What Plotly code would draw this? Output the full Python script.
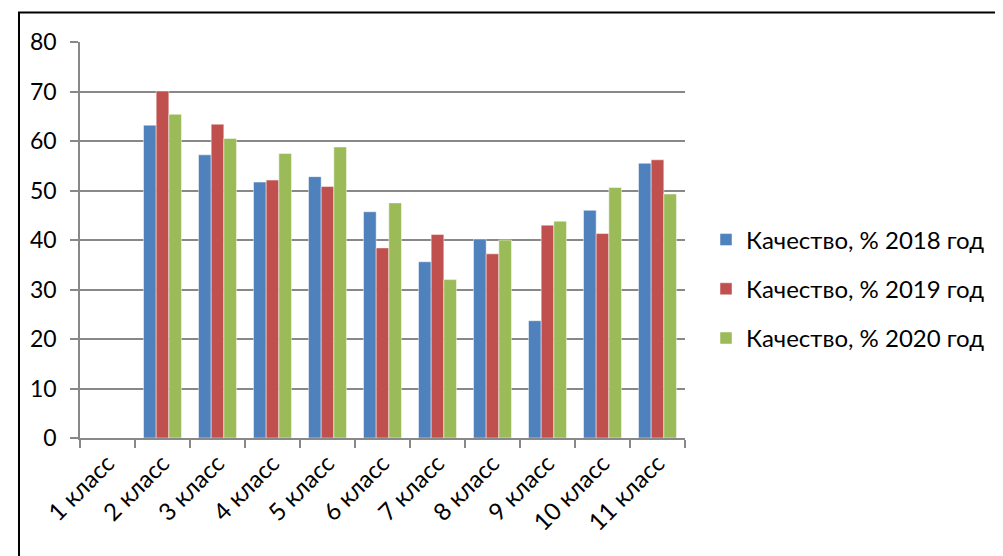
import plotly.graph_objects as go

categories = ["1 класс", "2 класс", "3 класс", "4 класс", "5 класс", "6 класс",
              "7 класс", "8 класс", "9 класс", "10 класс", "11 класс"]
series_names = ["Качество, % 2018 год", "Качество, % 2019 год", "Качество, % 2020 год"]
values_2018 = [None, 63.2, 57.2, 51.7, 52.8, 45.7, 35.6, 40.2, 23.7, 46.0, 55.5]
values_2019 = [None, 70.1, 63.4, 52.1, 50.8, 38.4, 41.1, 37.2, 43.0, 41.3, 56.2]
values_2020 = [None, 65.4, 60.5, 57.5, 58.8, 47.5, 32.0, 40.0, 43.8, 50.6, 49.3]
colors = ["#4F81BD", "#C0504D", "#9BBB59"]
y_ticks = [0, 10, 20, 30, 40, 50, 60, 70, 80]

FONT = "Lato, 'Open Sans', sans-serif"

fig = go.Figure()
for i, (name, vals) in enumerate(zip(series_names, [values_2018, values_2019, values_2020])):
    fig.add_trace(go.Bar(
        x=categories, y=vals, name=name, legendgroup=f"g{i}",
        marker=dict(color=colors[i], line=dict(color="rgba(255,255,255,0.6)", width=0.8)),
    ))

OFF = 8  # page body margin
L, T = 80 - OFF, 42 - OFF
W, H = 605, 396
fig.update_layout(
    width=1003, height=556,
    margin=dict(l=L, r=1003 - L - W, t=T, b=556 - T - H, autoexpand=False),
    paper_bgcolor="white", plot_bgcolor="white",
    barmode="group", bargap=0.31, bargroupgap=0,
    font=dict(family=FONT, size=22, color="black"),
    showlegend=True,
    legend=dict(x=(706 - OFF - L) / W, xanchor="left", y=(T + H - (289 - OFF)) / H, yanchor="middle",
                font=dict(family=FONT, size=24, color="black"),
                tracegroupgap=15, itemwidth=30, bgcolor="rgba(0,0,0,0)"),
    xaxis=dict(type="category", tickangle=-45, tickson="boundaries", automargin=False,
               ticks="outside", ticklen=8, tickcolor="#888888", tickwidth=1.5,
               showline=True, linecolor="#888888", linewidth=1.5,
               showgrid=False, tickfont=dict(size=24, family=FONT)),
    yaxis=dict(range=[0, 80], tickvals=y_ticks, ticks="outside", ticklen=8, automargin=False,
               tickcolor="#888888", tickwidth=1.5, ticklabelstandoff=9,
               showline=True, linecolor="#888888", linewidth=1.5,
               showgrid=True, gridcolor="#888888", gridwidth=1.5,
               zeroline=False, tickfont=dict(size=23, family=FONT)),
    shapes=[dict(type="rect", xref="paper", yref="paper",
                 x0=(11 - L) / W, x1=(1015 - L) / W,
                 y0=(T + H - 570) / H, y1=1 + (T - (12.5 - OFF)) / H,
                 line=dict(color="black", width=2), layer="below")],
)

fig.write_html("out.html")
